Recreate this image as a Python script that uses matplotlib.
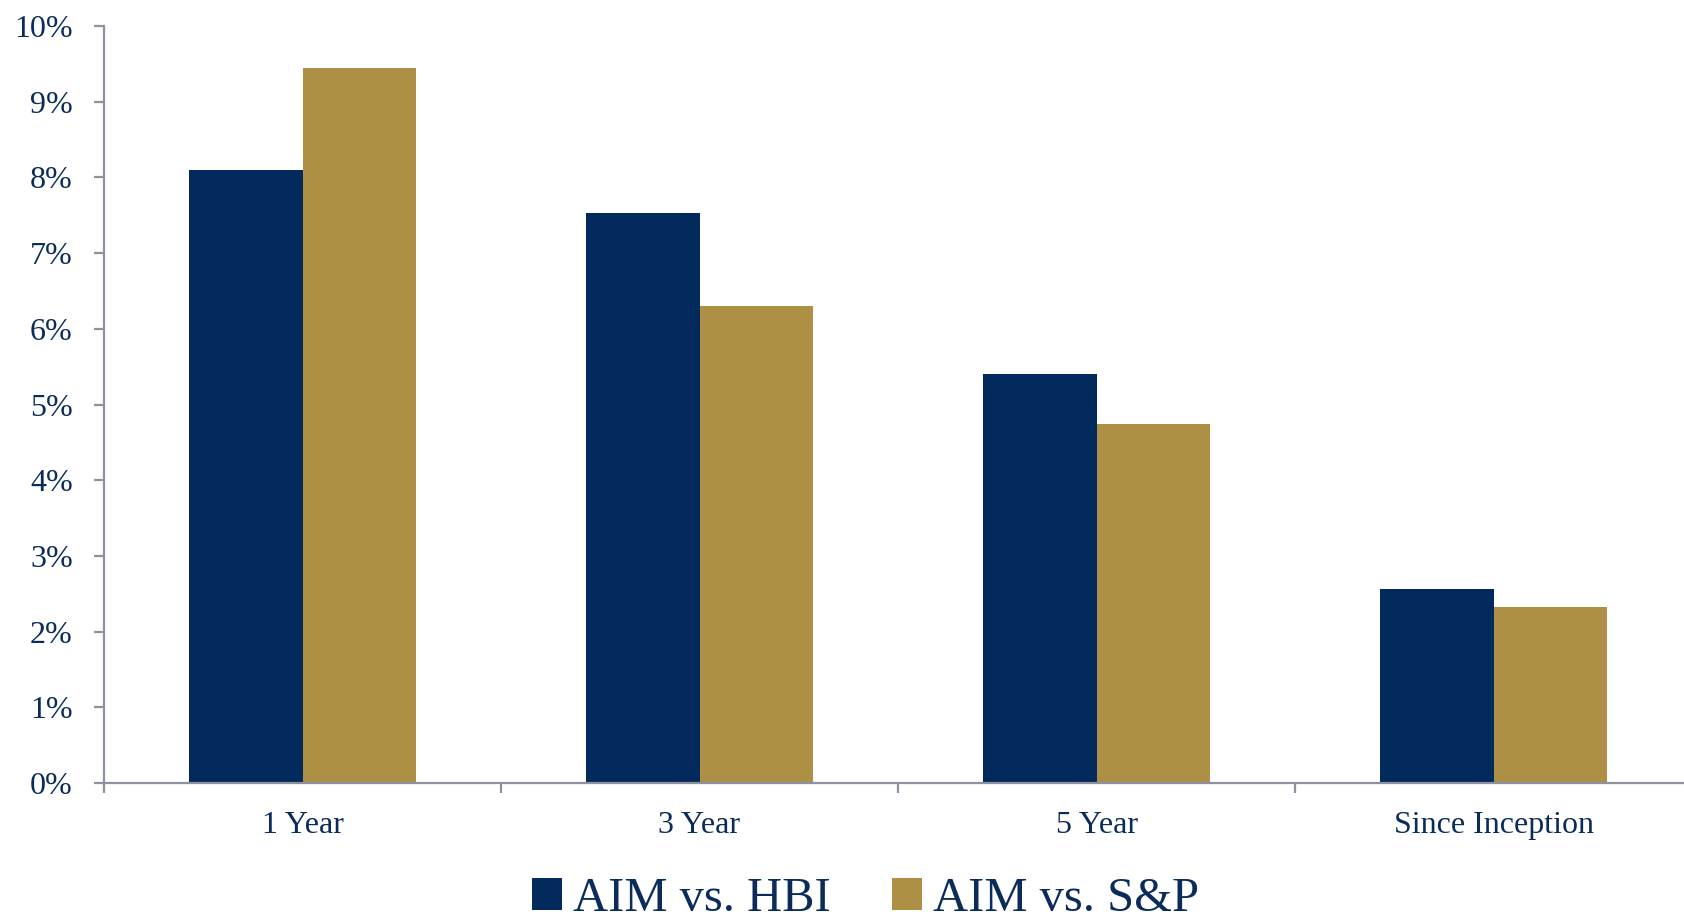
import matplotlib
matplotlib.use("Agg")
import matplotlib.pyplot as plt
from matplotlib.patches import Patch
from matplotlib.ticker import PercentFormatter, FixedLocator
import numpy as np

# Data
periods = ["1 Year", "3 Year", "5 Year", "Since Inception"]
series_names = ["AIM vs. HBI", "AIM vs. S&P"]
aim_vs_hbi = [8.10, 7.53, 5.40, 2.56]
aim_vs_sp = [9.44, 6.30, 4.74, 2.32]

NAVY = "#022A5C"
GOLD = "#AD8F45"
TEXT = "#0B2C5A"
AXIS = "#8E91A0"

plt.rcParams["font.family"] = ["Liberation Serif", "DejaVu Serif"]

fig = plt.figure(figsize=(16.84, 9.14), dpi=100)
ax = fig.add_axes([104 / 1684, 131 / 914, 1588 / 1684, 757 / 914])

x = np.arange(len(periods))
w = 0.287
ax.bar(x - w / 2, aim_vs_hbi, width=w, color=NAVY, label=series_names[0])
ax.bar(x + w / 2, aim_vs_sp, width=w, color=GOLD, label=series_names[1])

ax.set_xlim(-0.5, len(periods) - 0.5)
ax.set_ylim(0, 10)

for side in ("top", "right"):
    ax.spines[side].set_visible(False)
for side in ("left", "bottom"):
    ax.spines[side].set_color(AXIS)
    ax.spines[side].set_linewidth(1.6)

# y axis: percent ticks
ax.set_yticks(np.arange(0, 11, 1))
ax.yaxis.set_major_formatter(PercentFormatter(decimals=0))
ax.tick_params(axis="y", colors=AXIS, length=7.5, width=1.6, pad=15,
               labelsize=23, labelcolor=TEXT)

# x axis: tick marks on category boundaries, labels at centers
ax.xaxis.set_major_locator(FixedLocator(np.arange(-0.5, len(periods) + 0.5, 1)))
ax.xaxis.set_minor_locator(FixedLocator(x))
ax.set_xticklabels([])
ax.set_xticklabels(periods, minor=True)
ax.tick_params(axis="x", which="major", colors=AXIS, length=7.5, width=1.6)
ax.tick_params(axis="x", which="minor", length=0, pad=20,
               labelsize=23, labelcolor=TEXT)

handles = [Patch(facecolor=NAVY), Patch(facecolor=GOLD)]
fig.legend(handles, series_names, loc="lower center", ncol=2,
           bbox_to_anchor=(0.514, -0.008), frameon=False,
           prop={"size": 35}, labelcolor=TEXT,
           handlelength=0.62, handleheight=0.62, handletextpad=0.23,
           columnspacing=1.25, borderaxespad=0, borderpad=0)

fig.savefig("out.png", dpi=100)
